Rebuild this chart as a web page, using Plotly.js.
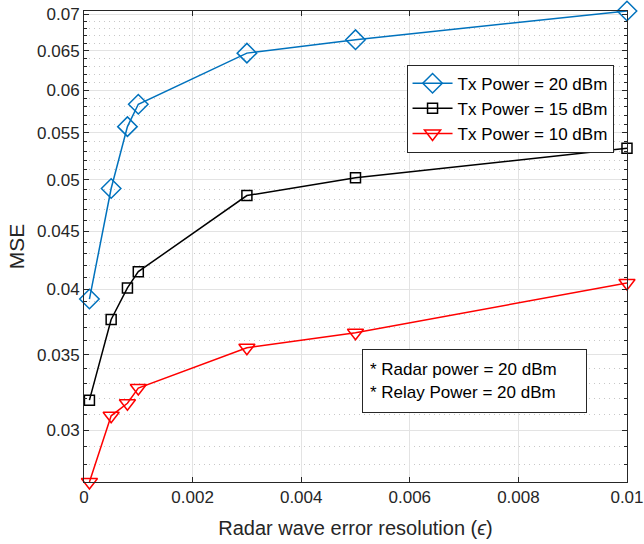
<!DOCTYPE html>
<html>
<head>
<meta charset="utf-8">
<script src="https://cdn.plot.ly/plotly-3.0.1.min.js"></script>
<style>html,body{margin:0;padding:0;background:#fff;}#chart{width:644px;height:544px;}</style>
</head>
<body>
<div id="chart"></div>
<script>
const xVals = [0.0001, 0.0005, 0.0008, 0.001, 0.003, 0.005, 0.01];
const mse20 = [0.0392, 0.0491, 0.0557, 0.0583, 0.0647, 0.0665, 0.0705];
const mse15 = [0.0319, 0.0376, 0.0401, 0.04145, 0.0484, 0.0502, 0.0533];
const mse10 = [0.0270, 0.0309, 0.0317, 0.0327, 0.0355, 0.0366, 0.0405];
const seriesNames = ['Tx Power = 20 dBm', 'Tx Power = 15 dBm', 'Tx Power = 10 dBm'];
const yTickVals = [0.03, 0.035, 0.04, 0.045, 0.05, 0.055, 0.06, 0.065, 0.07];
const yTickText = ['0.03', '0.035', '0.04', '0.045', '0.05', '0.055', '0.06', '0.065', '0.07'];
const yMinorVals = [0.027, 0.028, 0.029, 0.031, 0.032, 0.033, 0.034, 0.036, 0.037, 0.038, 0.039,
  0.041, 0.042, 0.043, 0.044, 0.046, 0.047, 0.048, 0.049, 0.051, 0.052, 0.053, 0.054,
  0.056, 0.057, 0.058, 0.059, 0.061, 0.062, 0.063, 0.064, 0.066, 0.067, 0.068, 0.069];
const xTickVals = [0, 0.002, 0.004, 0.006, 0.008, 0.01];
const xTickText = ['0', '0.002', '0.004', '0.006', '0.008', '0.01'];
const noteLines = ['* Radar power = 20 dBm', '* Relay Power = 20 dBm'];
const xRange = [0, 0.0100001];
const yRange = [0.027, 0.0705];

const axisColor = '#262626';
const fam = '"Liberation Sans", Arial, Helvetica, sans-serif';

const common = {mode: 'lines+markers', cliponaxis: false};
const traces = [
  Object.assign({x: xVals, y: mse20, name: seriesNames[0],
   line: {color: '#0072BD', width: 1.5},
   marker: {symbol: 'diamond-open', size: 15, color: '#0072BD', line: {width: 1.5}}}, common),
  Object.assign({x: xVals, y: mse15, name: seriesNames[1],
   line: {color: '#000000', width: 1.5},
   marker: {symbol: 'square-open', size: 10, color: '#000000', line: {width: 1.5}}}, common),
  Object.assign({x: xVals, y: mse10, name: seriesNames[2],
   line: {color: '#FF0000', width: 1.5},
   marker: {symbol: 'triangle-down-open', size: 14, color: '#FF0000', line: {width: 1.5}}}, common)
];

const layout = {
  width: 644, height: 544,
  margin: {l: 84, r: 17, t: 11, b: 62, pad: 0},
  paper_bgcolor: '#ffffff', plot_bgcolor: '#ffffff',
  font: {family: fam, size: 17, color: axisColor},
  showlegend: true,
  legend: {x: 0.594, y: 0.886, xanchor: 'left', yanchor: 'top',
    bgcolor: '#ffffff', bordercolor: axisColor, borderwidth: 1,
    font: {family: fam, size: 17, color: '#000'}, tracegroupgap: 0, itemwidth: 40},
  xaxis: {
    range: xRange, tickmode: 'array', tickvals: xTickVals, ticktext: xTickText,
    ticklabeloverflow: 'allow',
    showline: true, linecolor: axisColor, linewidth: 1, mirror: 'allticks',
    ticks: 'inside', ticklen: 5, tickcolor: axisColor,
    showgrid: true, gridcolor: '#e3e3e3', gridwidth: 1, zeroline: false,
    tickfont: {family: fam, size: 17, color: axisColor},
    title: {text: 'Radar wave error resolution (<i>ϵ</i>)', font: {family: fam, size: 20, color: axisColor}, standoff: 14}
  },
  yaxis: {
    type: 'log', range: [Math.log10(yRange[0]), Math.log10(yRange[1])],
    tickmode: 'array', tickvals: yTickVals, ticktext: yTickText,
    showline: true, linecolor: axisColor, linewidth: 1, mirror: 'allticks',
    ticks: 'inside', ticklen: 5, tickcolor: axisColor,
    showgrid: true, gridcolor: '#e3e3e3', gridwidth: 1, zeroline: false,
    tickfont: {family: fam, size: 17, color: axisColor},
    minor: {tickmode: 'array', tickvals: yMinorVals, ticks: 'inside', ticklen: 3, tickcolor: axisColor,
      showgrid: true, gridcolor: '#c8c8c8', griddash: '1px,4px', gridwidth: 1},
    title: {text: 'MSE', font: {family: fam, size: 21, color: axisColor}, standoff: 6}
  },
  annotations: [{
    xref: 'paper', yref: 'paper', x: 0.512, y: 0.2824, xanchor: 'left', yanchor: 'top',
    text: noteLines.join('<br>'), align: 'left', valign: 'middle', showarrow: false,
    width: 209, height: 48,
    font: {family: fam, size: 17, color: '#000'},
    bgcolor: '#ffffff', bordercolor: axisColor, borderwidth: 1, borderpad: 7
  }]
};

Plotly.newPlot('chart', traces, layout, {displayModeBar: false, staticPlot: true});
</script>
</body>
</html>
